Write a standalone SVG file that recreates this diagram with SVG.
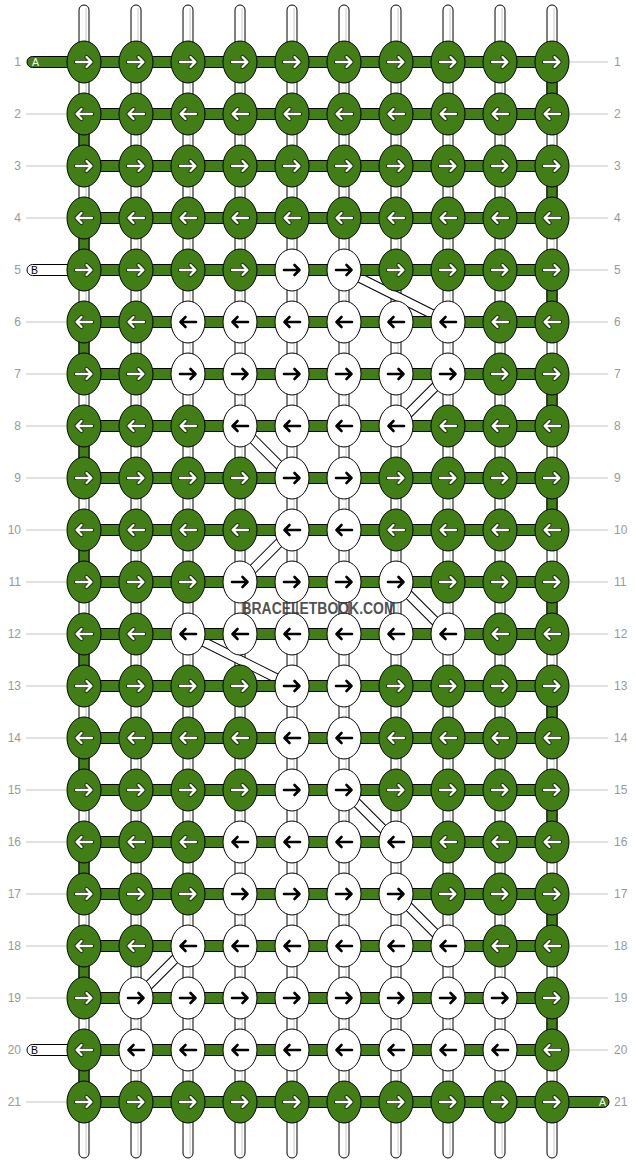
<svg xmlns="http://www.w3.org/2000/svg" xmlns:xlink="http://www.w3.org/1999/xlink" width="636" height="1164" viewBox="0 0 636 1164">
<style>
.g{fill:#427e16;stroke:#000;stroke-width:1}
.w{fill:#fff;stroke:#000;stroke-width:1}
.vs{fill:#fff;stroke:#000;stroke-width:1}
.vl{stroke:#c8c8c8;stroke-width:1}
.rl{stroke:#c4c4c4;stroke-width:1}
.num{font-family:"Liberation Sans",Arial,sans-serif;font-size:12px;fill:#999}
.lab{font-family:"Liberation Sans",Arial,sans-serif;font-size:10.5px}
.db{stroke:#000;stroke-width:10}
.dw{stroke:#fff;stroke-width:8}
</style>
<defs>
<path id="pR" d="M-8,0H7M2.5,-5L7.5,0L2.5,5" fill="none" stroke-linecap="round" stroke-linejoin="round"/>
<path id="pL" d="M8,0H-7M-2.5,-5L-7.5,0L-2.5,5" fill="none" stroke-linecap="round" stroke-linejoin="round"/>
<g id="wR"><use xlink:href="#pR" stroke="#1a2e0a" stroke-width="4.2"/><use xlink:href="#pR" stroke="#fff" stroke-width="2.3"/></g>
<g id="wL"><use xlink:href="#pL" stroke="#1a2e0a" stroke-width="4.2"/><use xlink:href="#pL" stroke="#fff" stroke-width="2.3"/></g>
<use id="bR" xlink:href="#pR" stroke="#000" stroke-width="2.6"/>
<use id="bL" xlink:href="#pL" stroke="#000" stroke-width="2.6"/>
</defs>
<g id="row-lines">
<line class="rl" x1="26" y1="114" x2="66" y2="114"/><line class="rl" x1="26" y1="166" x2="66" y2="166"/><line class="rl" x1="26" y1="218" x2="66" y2="218"/>
<line class="rl" x1="26" y1="322" x2="66" y2="322"/><line class="rl" x1="26" y1="374" x2="66" y2="374"/><line class="rl" x1="26" y1="426" x2="66" y2="426"/><line class="rl" x1="26" y1="478" x2="66" y2="478"/><line class="rl" x1="26" y1="530" x2="66" y2="530"/><line class="rl" x1="26" y1="582" x2="66" y2="582"/><line class="rl" x1="26" y1="634" x2="66" y2="634"/><line class="rl" x1="26" y1="686" x2="66" y2="686"/><line class="rl" x1="26" y1="738" x2="66" y2="738"/><line class="rl" x1="26" y1="790" x2="66" y2="790"/><line class="rl" x1="26" y1="842" x2="66" y2="842"/><line class="rl" x1="26" y1="894" x2="66" y2="894"/><line class="rl" x1="26" y1="946" x2="66" y2="946"/><line class="rl" x1="26" y1="998" x2="66" y2="998"/><line class="rl" x1="26" y1="1102" x2="66" y2="1102"/>
<line class="rl" x1="570" y1="62" x2="608" y2="62"/><line class="rl" x1="570" y1="114" x2="608" y2="114"/><line class="rl" x1="570" y1="166" x2="608" y2="166"/><line class="rl" x1="570" y1="218" x2="608" y2="218"/><line class="rl" x1="570" y1="270" x2="608" y2="270"/><line class="rl" x1="570" y1="322" x2="608" y2="322"/><line class="rl" x1="570" y1="374" x2="608" y2="374"/><line class="rl" x1="570" y1="426" x2="608" y2="426"/><line class="rl" x1="570" y1="478" x2="608" y2="478"/><line class="rl" x1="570" y1="530" x2="608" y2="530"/><line class="rl" x1="570" y1="582" x2="608" y2="582"/><line class="rl" x1="570" y1="634" x2="608" y2="634"/><line class="rl" x1="570" y1="686" x2="608" y2="686"/><line class="rl" x1="570" y1="738" x2="608" y2="738"/><line class="rl" x1="570" y1="790" x2="608" y2="790"/><line class="rl" x1="570" y1="842" x2="608" y2="842"/><line class="rl" x1="570" y1="894" x2="608" y2="894"/><line class="rl" x1="570" y1="946" x2="608" y2="946"/><line class="rl" x1="570" y1="998" x2="608" y2="998"/><line class="rl" x1="570" y1="1050" x2="608" y2="1050"/>
</g>
<g id="vertical-strings">
<rect class="vs" x="79" y="5" width="10" height="1153" rx="5"/><line class="vl" x1="86" y1="8" x2="86" y2="1155"/>
<rect class="vs" x="131" y="5" width="10" height="1153" rx="5"/><line class="vl" x1="138" y1="8" x2="138" y2="1155"/>
<rect class="vs" x="183" y="5" width="10" height="1153" rx="5"/><line class="vl" x1="190" y1="8" x2="190" y2="1155"/>
<rect class="vs" x="235" y="5" width="10" height="1153" rx="5"/><line class="vl" x1="242" y1="8" x2="242" y2="1155"/>
<rect class="vs" x="287" y="5" width="10" height="1153" rx="5"/><line class="vl" x1="294" y1="8" x2="294" y2="1155"/>
<rect class="vs" x="339" y="5" width="10" height="1153" rx="5"/><line class="vl" x1="346" y1="8" x2="346" y2="1155"/>
<rect class="vs" x="391" y="5" width="10" height="1153" rx="5"/><line class="vl" x1="398" y1="8" x2="398" y2="1155"/>
<rect class="vs" x="443" y="5" width="10" height="1153" rx="5"/><line class="vl" x1="450" y1="8" x2="450" y2="1155"/>
<rect class="vs" x="495" y="5" width="10" height="1153" rx="5"/><line class="vl" x1="502" y1="8" x2="502" y2="1155"/>
<rect class="vs" x="547" y="5" width="10" height="1153" rx="5"/><line class="vl" x1="554" y1="8" x2="554" y2="1155"/>
</g>
<g id="connectors">
<g id="edge-turns">
<rect class="g" x="79" y="129" width="10" height="22"/><rect class="g" x="79" y="233" width="10" height="22"/><rect class="g" x="79" y="337" width="10" height="22"/><rect class="g" x="79" y="441" width="10" height="22"/><rect class="g" x="79" y="545" width="10" height="22"/><rect class="g" x="79" y="649" width="10" height="22"/><rect class="g" x="79" y="753" width="10" height="22"/><rect class="g" x="79" y="857" width="10" height="22"/><rect class="g" x="79" y="961" width="10" height="22"/><rect class="g" x="79" y="1065" width="10" height="22"/>
<rect class="g" x="547" y="77" width="10" height="22"/><rect class="g" x="547" y="181" width="10" height="22"/><rect class="g" x="547" y="285" width="10" height="22"/><rect class="g" x="547" y="389" width="10" height="22"/><rect class="g" x="547" y="493" width="10" height="22"/><rect class="g" x="547" y="597" width="10" height="22"/><rect class="g" x="547" y="701" width="10" height="22"/><rect class="g" x="547" y="805" width="10" height="22"/><rect class="g" x="547" y="909" width="10" height="22"/><rect class="g" x="547" y="1013" width="10" height="22"/>
</g>
<g id="diagonals">
<line class="db" x1="344" y1="270" x2="448" y2="322"/><line class="dw" x1="344" y1="270" x2="448" y2="322"/>
<line class="db" x1="448" y1="374" x2="396" y2="426"/><line class="dw" x1="448" y1="374" x2="396" y2="426"/>
<line class="db" x1="240" y1="426" x2="292" y2="478"/><line class="dw" x1="240" y1="426" x2="292" y2="478"/>
<line class="db" x1="292" y1="530" x2="240" y2="582"/><line class="dw" x1="292" y1="530" x2="240" y2="582"/>
<line class="db" x1="396" y1="582" x2="448" y2="634"/><line class="dw" x1="396" y1="582" x2="448" y2="634"/>
<line class="db" x1="188" y1="634" x2="292" y2="686"/><line class="dw" x1="188" y1="634" x2="292" y2="686"/>
<line class="db" x1="344" y1="790" x2="396" y2="842"/><line class="dw" x1="344" y1="790" x2="396" y2="842"/>
<line class="db" x1="396" y1="894" x2="448" y2="946"/><line class="dw" x1="396" y1="894" x2="448" y2="946"/>
<line class="db" x1="188" y1="946" x2="136" y2="998"/><line class="dw" x1="188" y1="946" x2="136" y2="998"/>
</g>
<g id="rows">
<rect class="g" x="27" y="56.5" width="62" height="11" rx="5.5"/>
<rect class="w" x="27" y="264.5" width="62" height="11" rx="5.5"/>
<rect class="w" x="27" y="1044.5" width="62" height="11" rx="5.5"/>
<rect class="g" x="547" y="1096.5" width="62" height="11" rx="5.5"/>
<rect class="g" x="84" y="56.5" width="468" height="11"/><rect class="g" x="84" y="108.5" width="468" height="11"/><rect class="g" x="84" y="160.5" width="468" height="11"/><rect class="g" x="84" y="212.5" width="468" height="11"/><rect class="g" x="84" y="264.5" width="468" height="11"/><rect class="g" x="84" y="316.5" width="468" height="11"/><rect class="g" x="84" y="368.5" width="468" height="11"/><rect class="g" x="84" y="420.5" width="468" height="11"/><rect class="g" x="84" y="472.5" width="468" height="11"/><rect class="g" x="84" y="524.5" width="468" height="11"/><rect class="g" x="84" y="576.5" width="468" height="11"/><rect class="g" x="84" y="628.5" width="468" height="11"/><rect class="g" x="84" y="680.5" width="468" height="11"/><rect class="g" x="84" y="732.5" width="468" height="11"/><rect class="g" x="84" y="784.5" width="468" height="11"/><rect class="g" x="84" y="836.5" width="468" height="11"/><rect class="g" x="84" y="888.5" width="468" height="11"/><rect class="g" x="84" y="940.5" width="468" height="11"/><rect class="g" x="84" y="992.5" width="468" height="11"/><rect class="g" x="84" y="1044.5" width="468" height="11"/><rect class="g" x="84" y="1096.5" width="468" height="11"/>
</g>
</g>
<g id="string-labels">
<text class="lab" x="32" y="66" fill="#fff">A</text>
<text class="lab" x="31" y="274" fill="#000">B</text>
<text class="lab" x="31" y="1054" fill="#000">B</text>
<text class="lab" x="599" y="1106" fill="#fff">A</text>
</g>
<g id="knots">
<g id="k1-1" transform="translate(84,62)"><ellipse class="g" rx="17" ry="21"/><use xlink:href="#wR"/></g>
<g id="k1-2" transform="translate(136,62)"><ellipse class="g" rx="17" ry="21"/><use xlink:href="#wR"/></g>
<g id="k1-3" transform="translate(188,62)"><ellipse class="g" rx="17" ry="21"/><use xlink:href="#wR"/></g>
<g id="k1-4" transform="translate(240,62)"><ellipse class="g" rx="17" ry="21"/><use xlink:href="#wR"/></g>
<g id="k1-5" transform="translate(292,62)"><ellipse class="g" rx="17" ry="21"/><use xlink:href="#wR"/></g>
<g id="k1-6" transform="translate(344,62)"><ellipse class="g" rx="17" ry="21"/><use xlink:href="#wR"/></g>
<g id="k1-7" transform="translate(396,62)"><ellipse class="g" rx="17" ry="21"/><use xlink:href="#wR"/></g>
<g id="k1-8" transform="translate(448,62)"><ellipse class="g" rx="17" ry="21"/><use xlink:href="#wR"/></g>
<g id="k1-9" transform="translate(500,62)"><ellipse class="g" rx="17" ry="21"/><use xlink:href="#wR"/></g>
<g id="k1-10" transform="translate(552,62)"><ellipse class="g" rx="17" ry="21"/><use xlink:href="#wR"/></g>
<g id="k2-1" transform="translate(84,114)"><ellipse class="g" rx="17" ry="21"/><use xlink:href="#wL"/></g>
<g id="k2-2" transform="translate(136,114)"><ellipse class="g" rx="17" ry="21"/><use xlink:href="#wL"/></g>
<g id="k2-3" transform="translate(188,114)"><ellipse class="g" rx="17" ry="21"/><use xlink:href="#wL"/></g>
<g id="k2-4" transform="translate(240,114)"><ellipse class="g" rx="17" ry="21"/><use xlink:href="#wL"/></g>
<g id="k2-5" transform="translate(292,114)"><ellipse class="g" rx="17" ry="21"/><use xlink:href="#wL"/></g>
<g id="k2-6" transform="translate(344,114)"><ellipse class="g" rx="17" ry="21"/><use xlink:href="#wL"/></g>
<g id="k2-7" transform="translate(396,114)"><ellipse class="g" rx="17" ry="21"/><use xlink:href="#wL"/></g>
<g id="k2-8" transform="translate(448,114)"><ellipse class="g" rx="17" ry="21"/><use xlink:href="#wL"/></g>
<g id="k2-9" transform="translate(500,114)"><ellipse class="g" rx="17" ry="21"/><use xlink:href="#wL"/></g>
<g id="k2-10" transform="translate(552,114)"><ellipse class="g" rx="17" ry="21"/><use xlink:href="#wL"/></g>
<g id="k3-1" transform="translate(84,166)"><ellipse class="g" rx="17" ry="21"/><use xlink:href="#wR"/></g>
<g id="k3-2" transform="translate(136,166)"><ellipse class="g" rx="17" ry="21"/><use xlink:href="#wR"/></g>
<g id="k3-3" transform="translate(188,166)"><ellipse class="g" rx="17" ry="21"/><use xlink:href="#wR"/></g>
<g id="k3-4" transform="translate(240,166)"><ellipse class="g" rx="17" ry="21"/><use xlink:href="#wR"/></g>
<g id="k3-5" transform="translate(292,166)"><ellipse class="g" rx="17" ry="21"/><use xlink:href="#wR"/></g>
<g id="k3-6" transform="translate(344,166)"><ellipse class="g" rx="17" ry="21"/><use xlink:href="#wR"/></g>
<g id="k3-7" transform="translate(396,166)"><ellipse class="g" rx="17" ry="21"/><use xlink:href="#wR"/></g>
<g id="k3-8" transform="translate(448,166)"><ellipse class="g" rx="17" ry="21"/><use xlink:href="#wR"/></g>
<g id="k3-9" transform="translate(500,166)"><ellipse class="g" rx="17" ry="21"/><use xlink:href="#wR"/></g>
<g id="k3-10" transform="translate(552,166)"><ellipse class="g" rx="17" ry="21"/><use xlink:href="#wR"/></g>
<g id="k4-1" transform="translate(84,218)"><ellipse class="g" rx="17" ry="21"/><use xlink:href="#wL"/></g>
<g id="k4-2" transform="translate(136,218)"><ellipse class="g" rx="17" ry="21"/><use xlink:href="#wL"/></g>
<g id="k4-3" transform="translate(188,218)"><ellipse class="g" rx="17" ry="21"/><use xlink:href="#wL"/></g>
<g id="k4-4" transform="translate(240,218)"><ellipse class="g" rx="17" ry="21"/><use xlink:href="#wL"/></g>
<g id="k4-5" transform="translate(292,218)"><ellipse class="g" rx="17" ry="21"/><use xlink:href="#wL"/></g>
<g id="k4-6" transform="translate(344,218)"><ellipse class="g" rx="17" ry="21"/><use xlink:href="#wL"/></g>
<g id="k4-7" transform="translate(396,218)"><ellipse class="g" rx="17" ry="21"/><use xlink:href="#wL"/></g>
<g id="k4-8" transform="translate(448,218)"><ellipse class="g" rx="17" ry="21"/><use xlink:href="#wL"/></g>
<g id="k4-9" transform="translate(500,218)"><ellipse class="g" rx="17" ry="21"/><use xlink:href="#wL"/></g>
<g id="k4-10" transform="translate(552,218)"><ellipse class="g" rx="17" ry="21"/><use xlink:href="#wL"/></g>
<g id="k5-1" transform="translate(84,270)"><ellipse class="g" rx="17" ry="21"/><use xlink:href="#wR"/></g>
<g id="k5-2" transform="translate(136,270)"><ellipse class="g" rx="17" ry="21"/><use xlink:href="#wR"/></g>
<g id="k5-3" transform="translate(188,270)"><ellipse class="g" rx="17" ry="21"/><use xlink:href="#wR"/></g>
<g id="k5-4" transform="translate(240,270)"><ellipse class="g" rx="17" ry="21"/><use xlink:href="#wR"/></g>
<g id="k5-5" transform="translate(292,270)"><ellipse class="w" rx="17" ry="21"/><use xlink:href="#bR"/></g>
<g id="k5-6" transform="translate(344,270)"><ellipse class="w" rx="17" ry="21"/><use xlink:href="#bR"/></g>
<g id="k5-7" transform="translate(396,270)"><ellipse class="g" rx="17" ry="21"/><use xlink:href="#wR"/></g>
<g id="k5-8" transform="translate(448,270)"><ellipse class="g" rx="17" ry="21"/><use xlink:href="#wR"/></g>
<g id="k5-9" transform="translate(500,270)"><ellipse class="g" rx="17" ry="21"/><use xlink:href="#wR"/></g>
<g id="k5-10" transform="translate(552,270)"><ellipse class="g" rx="17" ry="21"/><use xlink:href="#wR"/></g>
<g id="k6-1" transform="translate(84,322)"><ellipse class="g" rx="17" ry="21"/><use xlink:href="#wL"/></g>
<g id="k6-2" transform="translate(136,322)"><ellipse class="g" rx="17" ry="21"/><use xlink:href="#wL"/></g>
<g id="k6-3" transform="translate(188,322)"><ellipse class="w" rx="17" ry="21"/><use xlink:href="#bL"/></g>
<g id="k6-4" transform="translate(240,322)"><ellipse class="w" rx="17" ry="21"/><use xlink:href="#bL"/></g>
<g id="k6-5" transform="translate(292,322)"><ellipse class="w" rx="17" ry="21"/><use xlink:href="#bL"/></g>
<g id="k6-6" transform="translate(344,322)"><ellipse class="w" rx="17" ry="21"/><use xlink:href="#bL"/></g>
<g id="k6-7" transform="translate(396,322)"><ellipse class="w" rx="17" ry="21"/><use xlink:href="#bL"/></g>
<g id="k6-8" transform="translate(448,322)"><ellipse class="w" rx="17" ry="21"/><use xlink:href="#bL"/></g>
<g id="k6-9" transform="translate(500,322)"><ellipse class="g" rx="17" ry="21"/><use xlink:href="#wL"/></g>
<g id="k6-10" transform="translate(552,322)"><ellipse class="g" rx="17" ry="21"/><use xlink:href="#wL"/></g>
<g id="k7-1" transform="translate(84,374)"><ellipse class="g" rx="17" ry="21"/><use xlink:href="#wR"/></g>
<g id="k7-2" transform="translate(136,374)"><ellipse class="g" rx="17" ry="21"/><use xlink:href="#wR"/></g>
<g id="k7-3" transform="translate(188,374)"><ellipse class="w" rx="17" ry="21"/><use xlink:href="#bR"/></g>
<g id="k7-4" transform="translate(240,374)"><ellipse class="w" rx="17" ry="21"/><use xlink:href="#bR"/></g>
<g id="k7-5" transform="translate(292,374)"><ellipse class="w" rx="17" ry="21"/><use xlink:href="#bR"/></g>
<g id="k7-6" transform="translate(344,374)"><ellipse class="w" rx="17" ry="21"/><use xlink:href="#bR"/></g>
<g id="k7-7" transform="translate(396,374)"><ellipse class="w" rx="17" ry="21"/><use xlink:href="#bR"/></g>
<g id="k7-8" transform="translate(448,374)"><ellipse class="w" rx="17" ry="21"/><use xlink:href="#bR"/></g>
<g id="k7-9" transform="translate(500,374)"><ellipse class="g" rx="17" ry="21"/><use xlink:href="#wR"/></g>
<g id="k7-10" transform="translate(552,374)"><ellipse class="g" rx="17" ry="21"/><use xlink:href="#wR"/></g>
<g id="k8-1" transform="translate(84,426)"><ellipse class="g" rx="17" ry="21"/><use xlink:href="#wL"/></g>
<g id="k8-2" transform="translate(136,426)"><ellipse class="g" rx="17" ry="21"/><use xlink:href="#wL"/></g>
<g id="k8-3" transform="translate(188,426)"><ellipse class="g" rx="17" ry="21"/><use xlink:href="#wL"/></g>
<g id="k8-4" transform="translate(240,426)"><ellipse class="w" rx="17" ry="21"/><use xlink:href="#bL"/></g>
<g id="k8-5" transform="translate(292,426)"><ellipse class="w" rx="17" ry="21"/><use xlink:href="#bL"/></g>
<g id="k8-6" transform="translate(344,426)"><ellipse class="w" rx="17" ry="21"/><use xlink:href="#bL"/></g>
<g id="k8-7" transform="translate(396,426)"><ellipse class="w" rx="17" ry="21"/><use xlink:href="#bL"/></g>
<g id="k8-8" transform="translate(448,426)"><ellipse class="g" rx="17" ry="21"/><use xlink:href="#wL"/></g>
<g id="k8-9" transform="translate(500,426)"><ellipse class="g" rx="17" ry="21"/><use xlink:href="#wL"/></g>
<g id="k8-10" transform="translate(552,426)"><ellipse class="g" rx="17" ry="21"/><use xlink:href="#wL"/></g>
<g id="k9-1" transform="translate(84,478)"><ellipse class="g" rx="17" ry="21"/><use xlink:href="#wR"/></g>
<g id="k9-2" transform="translate(136,478)"><ellipse class="g" rx="17" ry="21"/><use xlink:href="#wR"/></g>
<g id="k9-3" transform="translate(188,478)"><ellipse class="g" rx="17" ry="21"/><use xlink:href="#wR"/></g>
<g id="k9-4" transform="translate(240,478)"><ellipse class="g" rx="17" ry="21"/><use xlink:href="#wR"/></g>
<g id="k9-5" transform="translate(292,478)"><ellipse class="w" rx="17" ry="21"/><use xlink:href="#bR"/></g>
<g id="k9-6" transform="translate(344,478)"><ellipse class="w" rx="17" ry="21"/><use xlink:href="#bR"/></g>
<g id="k9-7" transform="translate(396,478)"><ellipse class="g" rx="17" ry="21"/><use xlink:href="#wR"/></g>
<g id="k9-8" transform="translate(448,478)"><ellipse class="g" rx="17" ry="21"/><use xlink:href="#wR"/></g>
<g id="k9-9" transform="translate(500,478)"><ellipse class="g" rx="17" ry="21"/><use xlink:href="#wR"/></g>
<g id="k9-10" transform="translate(552,478)"><ellipse class="g" rx="17" ry="21"/><use xlink:href="#wR"/></g>
<g id="k10-1" transform="translate(84,530)"><ellipse class="g" rx="17" ry="21"/><use xlink:href="#wL"/></g>
<g id="k10-2" transform="translate(136,530)"><ellipse class="g" rx="17" ry="21"/><use xlink:href="#wL"/></g>
<g id="k10-3" transform="translate(188,530)"><ellipse class="g" rx="17" ry="21"/><use xlink:href="#wL"/></g>
<g id="k10-4" transform="translate(240,530)"><ellipse class="g" rx="17" ry="21"/><use xlink:href="#wL"/></g>
<g id="k10-5" transform="translate(292,530)"><ellipse class="w" rx="17" ry="21"/><use xlink:href="#bL"/></g>
<g id="k10-6" transform="translate(344,530)"><ellipse class="w" rx="17" ry="21"/><use xlink:href="#bL"/></g>
<g id="k10-7" transform="translate(396,530)"><ellipse class="g" rx="17" ry="21"/><use xlink:href="#wL"/></g>
<g id="k10-8" transform="translate(448,530)"><ellipse class="g" rx="17" ry="21"/><use xlink:href="#wL"/></g>
<g id="k10-9" transform="translate(500,530)"><ellipse class="g" rx="17" ry="21"/><use xlink:href="#wL"/></g>
<g id="k10-10" transform="translate(552,530)"><ellipse class="g" rx="17" ry="21"/><use xlink:href="#wL"/></g>
<g id="k11-1" transform="translate(84,582)"><ellipse class="g" rx="17" ry="21"/><use xlink:href="#wR"/></g>
<g id="k11-2" transform="translate(136,582)"><ellipse class="g" rx="17" ry="21"/><use xlink:href="#wR"/></g>
<g id="k11-3" transform="translate(188,582)"><ellipse class="g" rx="17" ry="21"/><use xlink:href="#wR"/></g>
<g id="k11-4" transform="translate(240,582)"><ellipse class="w" rx="17" ry="21"/><use xlink:href="#bR"/></g>
<g id="k11-5" transform="translate(292,582)"><ellipse class="w" rx="17" ry="21"/><use xlink:href="#bR"/></g>
<g id="k11-6" transform="translate(344,582)"><ellipse class="w" rx="17" ry="21"/><use xlink:href="#bR"/></g>
<g id="k11-7" transform="translate(396,582)"><ellipse class="w" rx="17" ry="21"/><use xlink:href="#bR"/></g>
<g id="k11-8" transform="translate(448,582)"><ellipse class="g" rx="17" ry="21"/><use xlink:href="#wR"/></g>
<g id="k11-9" transform="translate(500,582)"><ellipse class="g" rx="17" ry="21"/><use xlink:href="#wR"/></g>
<g id="k11-10" transform="translate(552,582)"><ellipse class="g" rx="17" ry="21"/><use xlink:href="#wR"/></g>
<g id="k12-1" transform="translate(84,634)"><ellipse class="g" rx="17" ry="21"/><use xlink:href="#wL"/></g>
<g id="k12-2" transform="translate(136,634)"><ellipse class="g" rx="17" ry="21"/><use xlink:href="#wL"/></g>
<g id="k12-3" transform="translate(188,634)"><ellipse class="w" rx="17" ry="21"/><use xlink:href="#bL"/></g>
<g id="k12-4" transform="translate(240,634)"><ellipse class="w" rx="17" ry="21"/><use xlink:href="#bL"/></g>
<g id="k12-5" transform="translate(292,634)"><ellipse class="w" rx="17" ry="21"/><use xlink:href="#bL"/></g>
<g id="k12-6" transform="translate(344,634)"><ellipse class="w" rx="17" ry="21"/><use xlink:href="#bL"/></g>
<g id="k12-7" transform="translate(396,634)"><ellipse class="w" rx="17" ry="21"/><use xlink:href="#bL"/></g>
<g id="k12-8" transform="translate(448,634)"><ellipse class="w" rx="17" ry="21"/><use xlink:href="#bL"/></g>
<g id="k12-9" transform="translate(500,634)"><ellipse class="g" rx="17" ry="21"/><use xlink:href="#wL"/></g>
<g id="k12-10" transform="translate(552,634)"><ellipse class="g" rx="17" ry="21"/><use xlink:href="#wL"/></g>
<g id="k13-1" transform="translate(84,686)"><ellipse class="g" rx="17" ry="21"/><use xlink:href="#wR"/></g>
<g id="k13-2" transform="translate(136,686)"><ellipse class="g" rx="17" ry="21"/><use xlink:href="#wR"/></g>
<g id="k13-3" transform="translate(188,686)"><ellipse class="g" rx="17" ry="21"/><use xlink:href="#wR"/></g>
<g id="k13-4" transform="translate(240,686)"><ellipse class="g" rx="17" ry="21"/><use xlink:href="#wR"/></g>
<g id="k13-5" transform="translate(292,686)"><ellipse class="w" rx="17" ry="21"/><use xlink:href="#bR"/></g>
<g id="k13-6" transform="translate(344,686)"><ellipse class="w" rx="17" ry="21"/><use xlink:href="#bR"/></g>
<g id="k13-7" transform="translate(396,686)"><ellipse class="g" rx="17" ry="21"/><use xlink:href="#wR"/></g>
<g id="k13-8" transform="translate(448,686)"><ellipse class="g" rx="17" ry="21"/><use xlink:href="#wR"/></g>
<g id="k13-9" transform="translate(500,686)"><ellipse class="g" rx="17" ry="21"/><use xlink:href="#wR"/></g>
<g id="k13-10" transform="translate(552,686)"><ellipse class="g" rx="17" ry="21"/><use xlink:href="#wR"/></g>
<g id="k14-1" transform="translate(84,738)"><ellipse class="g" rx="17" ry="21"/><use xlink:href="#wL"/></g>
<g id="k14-2" transform="translate(136,738)"><ellipse class="g" rx="17" ry="21"/><use xlink:href="#wL"/></g>
<g id="k14-3" transform="translate(188,738)"><ellipse class="g" rx="17" ry="21"/><use xlink:href="#wL"/></g>
<g id="k14-4" transform="translate(240,738)"><ellipse class="g" rx="17" ry="21"/><use xlink:href="#wL"/></g>
<g id="k14-5" transform="translate(292,738)"><ellipse class="w" rx="17" ry="21"/><use xlink:href="#bL"/></g>
<g id="k14-6" transform="translate(344,738)"><ellipse class="w" rx="17" ry="21"/><use xlink:href="#bL"/></g>
<g id="k14-7" transform="translate(396,738)"><ellipse class="g" rx="17" ry="21"/><use xlink:href="#wL"/></g>
<g id="k14-8" transform="translate(448,738)"><ellipse class="g" rx="17" ry="21"/><use xlink:href="#wL"/></g>
<g id="k14-9" transform="translate(500,738)"><ellipse class="g" rx="17" ry="21"/><use xlink:href="#wL"/></g>
<g id="k14-10" transform="translate(552,738)"><ellipse class="g" rx="17" ry="21"/><use xlink:href="#wL"/></g>
<g id="k15-1" transform="translate(84,790)"><ellipse class="g" rx="17" ry="21"/><use xlink:href="#wR"/></g>
<g id="k15-2" transform="translate(136,790)"><ellipse class="g" rx="17" ry="21"/><use xlink:href="#wR"/></g>
<g id="k15-3" transform="translate(188,790)"><ellipse class="g" rx="17" ry="21"/><use xlink:href="#wR"/></g>
<g id="k15-4" transform="translate(240,790)"><ellipse class="g" rx="17" ry="21"/><use xlink:href="#wR"/></g>
<g id="k15-5" transform="translate(292,790)"><ellipse class="w" rx="17" ry="21"/><use xlink:href="#bR"/></g>
<g id="k15-6" transform="translate(344,790)"><ellipse class="w" rx="17" ry="21"/><use xlink:href="#bR"/></g>
<g id="k15-7" transform="translate(396,790)"><ellipse class="g" rx="17" ry="21"/><use xlink:href="#wR"/></g>
<g id="k15-8" transform="translate(448,790)"><ellipse class="g" rx="17" ry="21"/><use xlink:href="#wR"/></g>
<g id="k15-9" transform="translate(500,790)"><ellipse class="g" rx="17" ry="21"/><use xlink:href="#wR"/></g>
<g id="k15-10" transform="translate(552,790)"><ellipse class="g" rx="17" ry="21"/><use xlink:href="#wR"/></g>
<g id="k16-1" transform="translate(84,842)"><ellipse class="g" rx="17" ry="21"/><use xlink:href="#wL"/></g>
<g id="k16-2" transform="translate(136,842)"><ellipse class="g" rx="17" ry="21"/><use xlink:href="#wL"/></g>
<g id="k16-3" transform="translate(188,842)"><ellipse class="g" rx="17" ry="21"/><use xlink:href="#wL"/></g>
<g id="k16-4" transform="translate(240,842)"><ellipse class="w" rx="17" ry="21"/><use xlink:href="#bL"/></g>
<g id="k16-5" transform="translate(292,842)"><ellipse class="w" rx="17" ry="21"/><use xlink:href="#bL"/></g>
<g id="k16-6" transform="translate(344,842)"><ellipse class="w" rx="17" ry="21"/><use xlink:href="#bL"/></g>
<g id="k16-7" transform="translate(396,842)"><ellipse class="w" rx="17" ry="21"/><use xlink:href="#bL"/></g>
<g id="k16-8" transform="translate(448,842)"><ellipse class="g" rx="17" ry="21"/><use xlink:href="#wL"/></g>
<g id="k16-9" transform="translate(500,842)"><ellipse class="g" rx="17" ry="21"/><use xlink:href="#wL"/></g>
<g id="k16-10" transform="translate(552,842)"><ellipse class="g" rx="17" ry="21"/><use xlink:href="#wL"/></g>
<g id="k17-1" transform="translate(84,894)"><ellipse class="g" rx="17" ry="21"/><use xlink:href="#wR"/></g>
<g id="k17-2" transform="translate(136,894)"><ellipse class="g" rx="17" ry="21"/><use xlink:href="#wR"/></g>
<g id="k17-3" transform="translate(188,894)"><ellipse class="g" rx="17" ry="21"/><use xlink:href="#wR"/></g>
<g id="k17-4" transform="translate(240,894)"><ellipse class="w" rx="17" ry="21"/><use xlink:href="#bR"/></g>
<g id="k17-5" transform="translate(292,894)"><ellipse class="w" rx="17" ry="21"/><use xlink:href="#bR"/></g>
<g id="k17-6" transform="translate(344,894)"><ellipse class="w" rx="17" ry="21"/><use xlink:href="#bR"/></g>
<g id="k17-7" transform="translate(396,894)"><ellipse class="w" rx="17" ry="21"/><use xlink:href="#bR"/></g>
<g id="k17-8" transform="translate(448,894)"><ellipse class="g" rx="17" ry="21"/><use xlink:href="#wR"/></g>
<g id="k17-9" transform="translate(500,894)"><ellipse class="g" rx="17" ry="21"/><use xlink:href="#wR"/></g>
<g id="k17-10" transform="translate(552,894)"><ellipse class="g" rx="17" ry="21"/><use xlink:href="#wR"/></g>
<g id="k18-1" transform="translate(84,946)"><ellipse class="g" rx="17" ry="21"/><use xlink:href="#wL"/></g>
<g id="k18-2" transform="translate(136,946)"><ellipse class="g" rx="17" ry="21"/><use xlink:href="#wL"/></g>
<g id="k18-3" transform="translate(188,946)"><ellipse class="w" rx="17" ry="21"/><use xlink:href="#bL"/></g>
<g id="k18-4" transform="translate(240,946)"><ellipse class="w" rx="17" ry="21"/><use xlink:href="#bL"/></g>
<g id="k18-5" transform="translate(292,946)"><ellipse class="w" rx="17" ry="21"/><use xlink:href="#bL"/></g>
<g id="k18-6" transform="translate(344,946)"><ellipse class="w" rx="17" ry="21"/><use xlink:href="#bL"/></g>
<g id="k18-7" transform="translate(396,946)"><ellipse class="w" rx="17" ry="21"/><use xlink:href="#bL"/></g>
<g id="k18-8" transform="translate(448,946)"><ellipse class="w" rx="17" ry="21"/><use xlink:href="#bL"/></g>
<g id="k18-9" transform="translate(500,946)"><ellipse class="g" rx="17" ry="21"/><use xlink:href="#wL"/></g>
<g id="k18-10" transform="translate(552,946)"><ellipse class="g" rx="17" ry="21"/><use xlink:href="#wL"/></g>
<g id="k19-1" transform="translate(84,998)"><ellipse class="g" rx="17" ry="21"/><use xlink:href="#wR"/></g>
<g id="k19-2" transform="translate(136,998)"><ellipse class="w" rx="17" ry="21"/><use xlink:href="#bR"/></g>
<g id="k19-3" transform="translate(188,998)"><ellipse class="w" rx="17" ry="21"/><use xlink:href="#bR"/></g>
<g id="k19-4" transform="translate(240,998)"><ellipse class="w" rx="17" ry="21"/><use xlink:href="#bR"/></g>
<g id="k19-5" transform="translate(292,998)"><ellipse class="w" rx="17" ry="21"/><use xlink:href="#bR"/></g>
<g id="k19-6" transform="translate(344,998)"><ellipse class="w" rx="17" ry="21"/><use xlink:href="#bR"/></g>
<g id="k19-7" transform="translate(396,998)"><ellipse class="w" rx="17" ry="21"/><use xlink:href="#bR"/></g>
<g id="k19-8" transform="translate(448,998)"><ellipse class="w" rx="17" ry="21"/><use xlink:href="#bR"/></g>
<g id="k19-9" transform="translate(500,998)"><ellipse class="w" rx="17" ry="21"/><use xlink:href="#bR"/></g>
<g id="k19-10" transform="translate(552,998)"><ellipse class="g" rx="17" ry="21"/><use xlink:href="#wR"/></g>
<g id="k20-1" transform="translate(84,1050)"><ellipse class="g" rx="17" ry="21"/><use xlink:href="#wL"/></g>
<g id="k20-2" transform="translate(136,1050)"><ellipse class="w" rx="17" ry="21"/><use xlink:href="#bL"/></g>
<g id="k20-3" transform="translate(188,1050)"><ellipse class="w" rx="17" ry="21"/><use xlink:href="#bL"/></g>
<g id="k20-4" transform="translate(240,1050)"><ellipse class="w" rx="17" ry="21"/><use xlink:href="#bL"/></g>
<g id="k20-5" transform="translate(292,1050)"><ellipse class="w" rx="17" ry="21"/><use xlink:href="#bL"/></g>
<g id="k20-6" transform="translate(344,1050)"><ellipse class="w" rx="17" ry="21"/><use xlink:href="#bL"/></g>
<g id="k20-7" transform="translate(396,1050)"><ellipse class="w" rx="17" ry="21"/><use xlink:href="#bL"/></g>
<g id="k20-8" transform="translate(448,1050)"><ellipse class="w" rx="17" ry="21"/><use xlink:href="#bL"/></g>
<g id="k20-9" transform="translate(500,1050)"><ellipse class="w" rx="17" ry="21"/><use xlink:href="#bL"/></g>
<g id="k20-10" transform="translate(552,1050)"><ellipse class="g" rx="17" ry="21"/><use xlink:href="#wL"/></g>
<g id="k21-1" transform="translate(84,1102)"><ellipse class="g" rx="17" ry="21"/><use xlink:href="#wR"/></g>
<g id="k21-2" transform="translate(136,1102)"><ellipse class="g" rx="17" ry="21"/><use xlink:href="#wR"/></g>
<g id="k21-3" transform="translate(188,1102)"><ellipse class="g" rx="17" ry="21"/><use xlink:href="#wR"/></g>
<g id="k21-4" transform="translate(240,1102)"><ellipse class="g" rx="17" ry="21"/><use xlink:href="#wR"/></g>
<g id="k21-5" transform="translate(292,1102)"><ellipse class="g" rx="17" ry="21"/><use xlink:href="#wR"/></g>
<g id="k21-6" transform="translate(344,1102)"><ellipse class="g" rx="17" ry="21"/><use xlink:href="#wR"/></g>
<g id="k21-7" transform="translate(396,1102)"><ellipse class="g" rx="17" ry="21"/><use xlink:href="#wR"/></g>
<g id="k21-8" transform="translate(448,1102)"><ellipse class="g" rx="17" ry="21"/><use xlink:href="#wR"/></g>
<g id="k21-9" transform="translate(500,1102)"><ellipse class="g" rx="17" ry="21"/><use xlink:href="#wR"/></g>
<g id="k21-10" transform="translate(552,1102)"><ellipse class="g" rx="17" ry="21"/><use xlink:href="#wR"/></g>
</g>
<g id="row-numbers" class="num">
<text x="21" y="66" text-anchor="end">1</text><text x="21" y="118" text-anchor="end">2</text><text x="21" y="170" text-anchor="end">3</text><text x="21" y="222" text-anchor="end">4</text><text x="21" y="274" text-anchor="end">5</text><text x="21" y="326" text-anchor="end">6</text><text x="21" y="378" text-anchor="end">7</text><text x="21" y="430" text-anchor="end">8</text><text x="21" y="482" text-anchor="end">9</text><text x="21" y="534" text-anchor="end">10</text><text x="21" y="586" text-anchor="end">11</text><text x="21" y="638" text-anchor="end">12</text><text x="21" y="690" text-anchor="end">13</text><text x="21" y="742" text-anchor="end">14</text><text x="21" y="794" text-anchor="end">15</text><text x="21" y="846" text-anchor="end">16</text><text x="21" y="898" text-anchor="end">17</text><text x="21" y="950" text-anchor="end">18</text><text x="21" y="1002" text-anchor="end">19</text><text x="21" y="1054" text-anchor="end">20</text><text x="21" y="1106" text-anchor="end">21</text>
<text x="614" y="66">1</text><text x="614" y="118">2</text><text x="614" y="170">3</text><text x="614" y="222">4</text><text x="614" y="274">5</text><text x="614" y="326">6</text><text x="614" y="378">7</text><text x="614" y="430">8</text><text x="614" y="482">9</text><text x="614" y="534">10</text><text x="614" y="586">11</text><text x="614" y="638">12</text><text x="614" y="690">13</text><text x="614" y="742">14</text><text x="614" y="794">15</text><text x="614" y="846">16</text><text x="614" y="898">17</text><text x="614" y="950">18</text><text x="614" y="1002">19</text><text x="614" y="1054">20</text><text x="614" y="1106">21</text>
</g>
<text id="watermark" x="318.5" y="613.5" text-anchor="middle" font-family="Liberation Sans,Arial,sans-serif" font-weight="bold" font-size="16" fill="#3a3a3a" fill-opacity="0.9" textLength="154" lengthAdjust="spacingAndGlyphs">BRACELETBOOK.COM</text>
</svg>
